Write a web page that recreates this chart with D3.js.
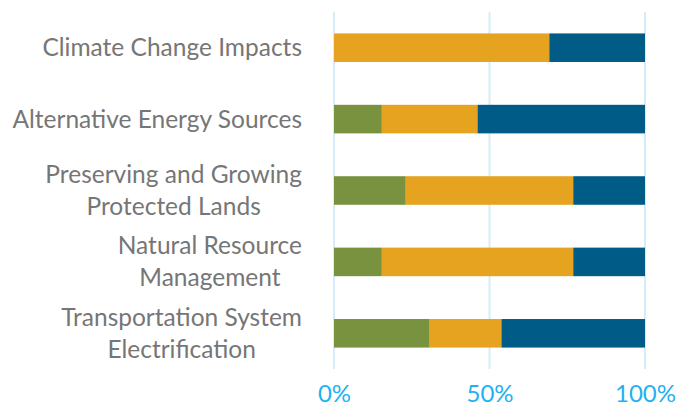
<!DOCTYPE html>
<html>
<head>
  <meta charset="utf-8">
  <title>Stacked 100% bars</title>
  <script src="https://d3js.org/d3.v7.min.js"></script>
  <style>
    body { margin: 0; background: #fff; }
  </style>
</head>
<body>
  <script>
    // categories, top to bottom; each label split into display lines
    var categories = [
      "Climate Change Impacts",
      "Alternative Energy Sources",
      "Preserving and Growing|Protected Lands",
      "Natural Resource|Management",
      "Transportation System|Electrification"
    ];
    // response counts per series (bars are shown as share of the total)
    var seriesGreen  = [0, 2, 3, 2, 4];
    var seriesOrange = [9, 4, 7, 8, 3];
    var seriesBlue   = [4, 7, 3, 3, 6];
    var tickValues = [0, 0.5, 1];

    var keys = ['green', 'orange', 'blue'];
    var colors = { green: '#78923f', orange: '#e5a31f', blue: '#005c87' };

    var rows = categories.map(function(c, i) {
      return { cat: c, green: seriesGreen[i], orange: seriesOrange[i], blue: seriesBlue[i] };
    });

    var width = 679, height = 409;
    var margin = { top: 12, right: 34, bottom: 40, left: 334 };
    var innerW = width - margin.left - margin.right;
    var innerH = height - margin.top - margin.bottom;

    var svg = d3.select('body').append('svg')
      .attr('width', width)
      .attr('height', height);

    var g = svg.append('g')
      .attr('transform', 'translate(' + margin.left + ',' + margin.top + ')');

    var x = d3.scaleLinear().domain([0, 1]).range([0, innerW]);
    var y = d3.scaleBand().domain(categories).range([0, innerH]).paddingInner(0.6).paddingOuter(0.3);

    var stack = d3.stack().keys(keys).offset(d3.stackOffsetExpand);
    var layers = stack(rows);

    // gridlines
    g.selectAll('line.grid')
      .data(tickValues)
      .enter().append('line')
      .attr('class', 'grid')
      .attr('x1', function(d) { return x(d); })
      .attr('x2', function(d) { return x(d); })
      .attr('y1', 0)
      .attr('y2', innerH)
      .attr('stroke', '#d5ecfa')
      .attr('stroke-width', 2);

    g.selectAll('g.layer')
      .data(layers)
      .enter().append('g')
      .attr('class', 'layer')
      .attr('fill', function(d) { return colors[d.key]; })
      .selectAll('rect')
      .data(function(d) { return d; })
      .enter().append('rect')
      .attr('x', function(d) { return x(d[0]); })
      .attr('width', function(d) { return x(d[1]) - x(d[0]); })
      .attr('y', function(d) { return y(d.data.cat); })
      .attr('height', y.bandwidth());

    // x axis labels
    var xAxis = d3.axisBottom(x).tickValues(tickValues).tickFormat(d3.format('.0%')).tickSize(0).tickPadding(16);
    var xg = g.append('g')
      .attr('transform', 'translate(0,' + innerH + ')')
      .call(xAxis);
    xg.select('.domain').remove();
    xg.selectAll('text')
      .attr('fill', '#1fb1f1')
      .style('font-family', 'Lato, "Open Sans", sans-serif')
      .style('font-size', '24px');

    // category labels: block right aligned, lines centred within block
    var labelRight = 302, lineH = 32;
    categories.forEach(function(c) {
      var lines = c.split('|');
      var t = svg.append('text')
        .attr('fill', '#767676')
        .style('font-family', 'Lato, "Open Sans", sans-serif')
        .style('font-size', '24.5px')
        .attr('text-anchor', 'middle');
      var cy = margin.top + y(c) + y.bandwidth() / 2;
      lines.forEach(function(l, i) {
        t.append('tspan')
          .attr('y', cy + (i - (lines.length - 1) / 2) * lineH)
          .attr('dy', '0.35em')
          .text(l);
      });
      var maxW = 0;
      t.selectAll('tspan').each(function() {
        maxW = Math.max(maxW, this.getComputedTextLength());
      });
      t.selectAll('tspan').attr('x', labelRight - maxW / 2);
    });
  </script>
</body>
</html>
